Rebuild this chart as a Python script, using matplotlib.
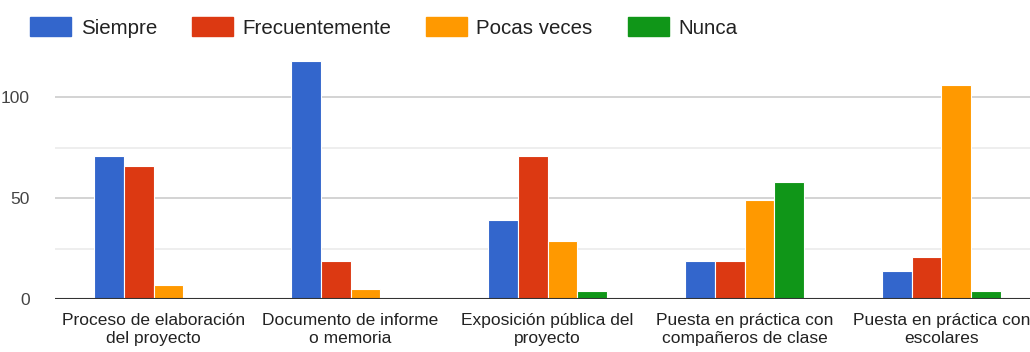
import matplotlib.pyplot as plt
import numpy as np
from matplotlib.patches import Patch

# Survey answers per project stage
categories = [
    "Proceso de elaboración\ndel proyecto",
    "Documento de informe\no memoria",
    "Exposición pública del\nproyecto",
    "Puesta en práctica con\ncompañeros de clase",
    "Puesta en práctica con\nescolares",
]
series_names = ["Siempre", "Frecuentemente", "Pocas veces", "Nunca"]
siempre = [71, 118, 39, 19, 14]
frecuentemente = [66, 19, 71, 19, 21]
pocas_veces = [7, 5, 29, 49, 106]
nunca = [0, 0, 4, 58, 4]
y_ticks = [0, 50, 100]

colors = ["#3366cc", "#dc3912", "#ff9900", "#109618"]
plt.rcParams["font.family"] = ["Liberation Sans", "DejaVu Sans"]

fig = plt.figure(figsize=(10.3, 3.52), dpi=100)
# plot area runs past the right edge, as in the exported chart
ax = fig.add_axes([55 / 1030, 52.7 / 352, 985 / 1030, 238.6 / 352])

x = np.arange(len(categories))
width = 0.152
all_series = [siempre, frecuentemente, pocas_veces, nunca]
for i, (vals, name, col) in enumerate(zip(all_series, series_names, colors)):
    ax.bar(x + (i - 1.5) * width, vals, width, color=col, edgecolor="white",
           linewidth=0.8, label=name, zorder=3)

ax.set_xlim(-0.5, 4.5)
ax.set_ylim(0, 118)
ax.set_yticks(y_ticks)
ax.set_yticks([25, 75], minor=True)
ax.grid(axis="y", which="major", color="#cccccc", linewidth=1.2, zorder=0)
ax.grid(axis="y", which="minor", color="#ebebeb", linewidth=1.2, zorder=0)
ax.axhline(0, color="#333333", linewidth=1.5, zorder=4)

ax.set_xticks(x)
ax.set_xticklabels(categories, fontsize=12.5, color="#222222", linespacing=1.25)
ax.tick_params(axis="x", length=0, pad=10)
ax.tick_params(axis="y", which="both", length=0, pad=18, labelsize=12.5,
               labelcolor="#444444")
for s in ax.spines.values():
    s.set_visible(False)

handles = [Patch(facecolor=c, edgecolor=c, alpha=1) for c in colors]
fig.legend(handles, series_names, loc="upper left", ncol=4, frameon=False,
           bbox_to_anchor=(20 / 1030, 1 - 7 / 352), borderpad=0,
           fontsize=14.8, labelcolor="#222222", handlelength=2.0,
           handleheight=1.0, handletextpad=0.45, columnspacing=1.7)

fig.savefig("out.png", dpi=100)
